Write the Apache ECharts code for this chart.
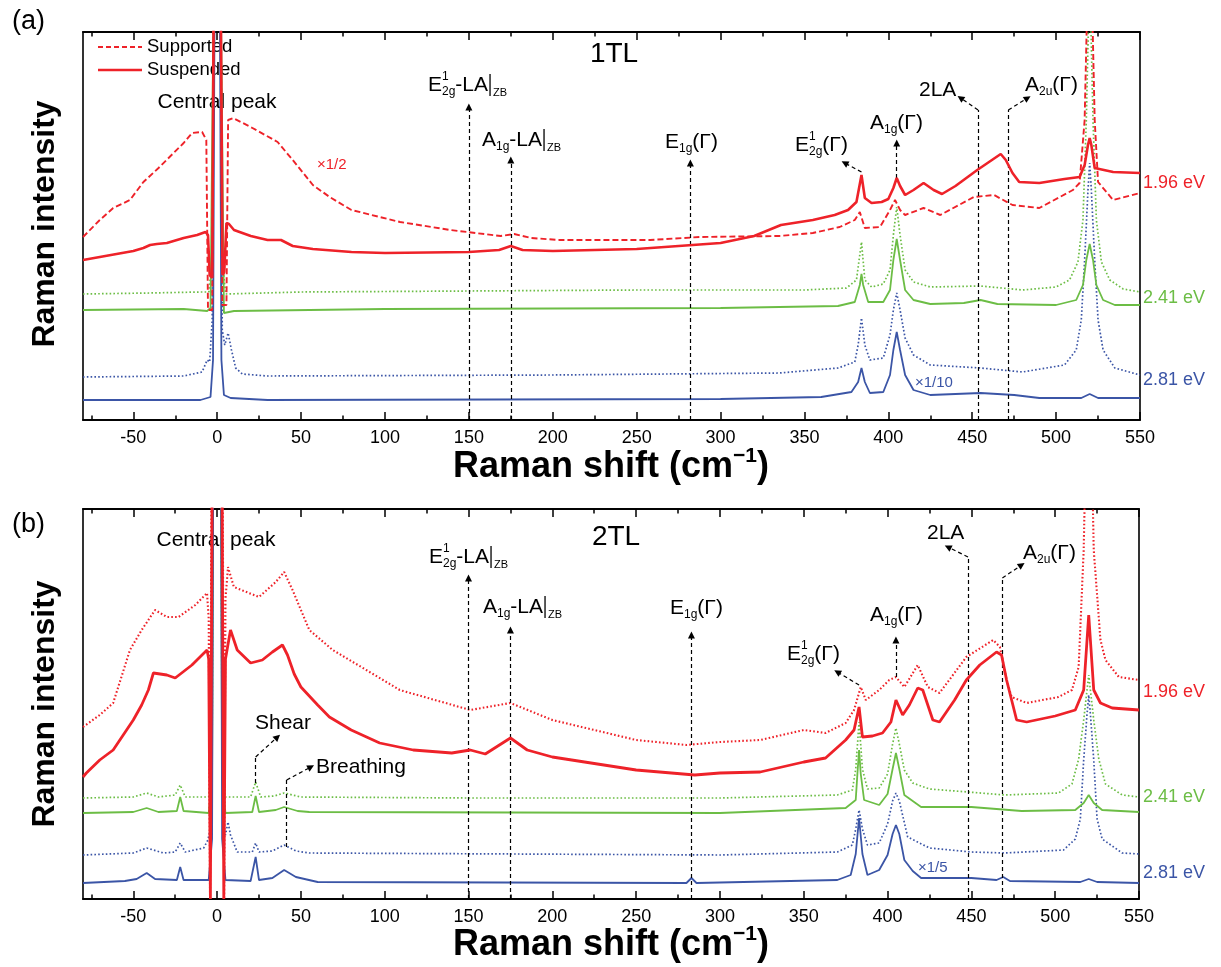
<!DOCTYPE html>
<html><head><meta charset="utf-8">
<script src="https://cdn.jsdelivr.net/npm/echarts@6/dist/echarts.min.js"></script>
<style>html,body{margin:0;padding:0;background:#fff}#c{width:1221px;height:967px}</style>
</head><body><div id="c"></div>
<script>
// ---------- data (Raman shift cm^-1, intensity a.u. offset per trace) ----------
const majorTicks = [-50,0,50,100,150,200,250,300,350,400,450,500,550];
const minorTicks = [-75,-25,25,75,125,175,225,275,325,375,425,475,525];

// (a) 1TL
const a_red_sus = [[-80,160],[-70,163],[-60,166],[-50,169],[-44,172],[-40,175],[-36,176],[-30,177],[-20,182],[-12,185],[-7,188],[-5.5,185],[-4.5,145],[-3,142],[-2,450],[0,450],[2,450],[3.2,145],[4.2,148],[5.5,197],[7,196],[10,190],[20,184],[30,180],[38,180],[45,174],[57,171],[80,168],[100,167],[150,168],[168,170],[175,174],[182,170],[200,169],[250,171],[300,177],[320,184],[336,195],[355,200],[368,205],[376,210],[381,218],[384,245],[386,222],[390,217],[396,218],[400,221],[403,232],[405,242],[407,234],[410,225],[415,230],[421,237],[427,230],[432,226],[440,234],[453,250],[460,258],[467,266],[470,260],[474,247],[478,238],[490,237],[505,241],[514,243],[517,255],[519,275],[520,282],[521,275],[523,252],[534,248],[550,247]];
const a_red_sup = [[-80,183],[-70,200],[-62,212],[-52,220],[-44,238],[-35,252],[-26,267],[-20,277],[-15,287],[-9,288],[-6.5,280],[-5.5,110],[-3,110],[-2,450],[0,450],[2,450],[3,115],[5.5,115],[6.5,300],[9.5,302],[21,292],[36,278],[45,260],[57,235],[67,223],[80,210],[109,198],[139,190],[169,184],[177,186],[187,182],[204,180],[258,180],[288,183],[335,184],[355,187],[371,193],[380,200],[383,208],[386,192],[395,193],[401,210],[404,220],[407,210],[410,205],[421,212],[431,205],[451,223],[463,225],[474,215],[490,212],[510,230],[514,237],[517,300],[519,450],[521,450],[523,300],[525,238],[534,220],[550,227]];
const a_grn_sup = [[-80,126],[-40,127],[-10,128],[-5,128],[-3,160],[-2,450],[0,450],[2,450],[3,160],[5,126],[50,128],[150,129],[250,130],[350,130],[375,132],[381,140],[384,178],[386,140],[390,133],[397,136],[401,150],[403,185],[405,213],[407,185],[410,150],[415,138],[425,133],[455,134],[480,130],[500,133],[508,140],[513,158],[516,200],[518,300],[520,450],[522,300],[524,200],[527,158],[532,140],[540,131],[550,128]];
const a_grn_sus = [[-80,110],[-20,111],[-6,109],[-4,112],[-2,450],[0,450],[2,450],[4,107],[10,109],[100,111],[300,112],[370,114],[380,118],[383,135],[384,146],[385,135],[388,118],[397,118],[401,130],[403,160],[405,181],[407,160],[410,130],[415,120],[425,116],[445,117],[455,120],[465,116],[500,115],[512,120],[516,135],[518,160],[520,176],[522,160],[524,135],[528,120],[535,115],[550,115]];
const a_blu_sup = [[-80,43],[-20,44],[-9,48],[-6,60],[-4.5,58],[-3,100],[-2,450],[0,450],[2,450],[3,90],[4.5,75],[6.5,87],[8.5,70],[11,52],[15,46],[30,44],[200,45],[335,47],[370,52],[380,58],[382,75],[384,102],[386,75],[389,60],[397,62],[401,85],[403,110],[405,127],[407,110],[410,82],[415,65],[425,55],[455,52],[480,48],[505,55],[512,70],[515,100],[517,160],[519,230],[520,257],[521,230],[523,160],[525,100],[528,70],[535,52],[550,45]];
const a_blu_sus = [[-80,20],[-10,20],[-4,23],[-2.5,60],[-1.5,450],[0,450],[1.5,450],[2.5,60],[4,25],[8,22],[30,20],[300,21],[360,23],[378,28],[382,38],[384,52],[386,38],[389,27],[397,28],[401,45],[403,70],[405,88],[407,70],[410,45],[415,30],[425,25],[455,27],[475,25],[490,22],[515,22],[520,26],[525,22],[550,22]];

// (b) 2TL
const b_red_sus = [[-80,122],[-78,126],[-70,139],[-62,149],[-50,179],[-45,194],[-41,209],[-38,226],[-30,224],[-25,221],[-15,234],[-6,249],[-5,240],[-4,0],[-2.5,600],[0,600],[2.5,600],[4,0],[5,240],[8,269],[12,249],[20,236],[27,239],[33,247],[39,254],[42,244],[46,225],[50,212],[60,194],[67,182],[80,169],[97,156],[117,149],[140,146],[151,149],[160,145],[175,161],[185,149],[200,142],[250,129],[285,124],[300,126],[324,127],[350,137],[363,141],[375,159],[380,169],[383,192],[385,162],[391,163],[397,166],[402,177],[405,199],[409,184],[413,194],[418,211],[421,209],[427,179],[431,177],[440,199],[447,219],[455,234],[465,247],[468,244],[471,219],[474,199],[477,179],[483,177],[500,183],[512,189],[517,209],[520,284],[523,209],[527,196],[534,191],[550,189]];
const b_red_sup = [[-80,172],[-70,184],[-62,196],[-52,249],[-45,269],[-37,289],[-30,282],[-23,282],[-13,294],[-6,306],[-5,280],[-4.2,0],[-3,600],[0,600],[3,600],[4.2,0],[5,300],[6.5,332],[10,312],[25,302],[35,317],[40,327],[45,309],[55,269],[69,249],[89,229],[109,209],[130,199],[151,189],[175,196],[200,179],[250,159],[280,154],[300,157],[324,159],[350,169],[363,166],[375,176],[380,189],[384,212],[387,199],[395,209],[401,219],[405,222],[410,212],[418,234],[424,212],[431,206],[447,242],[463,259],[467,252],[471,219],[474,202],[483,196],[502,202],[510,209],[514,232],[517,349],[520,600],[523,349],[527,259],[530,239],[538,222],[550,219]];
const b_grn_sup = [[-80,101],[-50,102],[-42,106],[-35,102],[-25,104],[-22,114],[-19,102],[-5,102],[-3,140],[-2,600],[0,600],[2,600],[3,140],[5,102],[20,102],[23,117],[26,102],[34,103],[40,106],[50,102],[150,101],[300,101],[370,104],[379,109],[381,130],[383,177],[385,130],[388,110],[395,111],[400,125],[403,155],[405,171],[407,155],[410,129],[415,116],[425,110],[448,107],[470,104],[502,106],[510,115],[514,140],[517,179],[520,224],[523,179],[526,140],[530,115],[540,104],[550,102]];
const b_grn_sus = [[-80,86],[-50,87],[-42,91],[-35,87],[-24,88],[-22,102],[-20,88],[-5,86],[-3,120],[-2,600],[0,600],[2,600],[3,120],[5,86],[21,87],[23,103],[25,87],[35,89],[40,92],[48,88],[55,87],[300,86],[375,91],[381,99],[382,125],[383,149],[384,125],[386,99],[395,94],[400,105],[403,130],[405,146],[407,130],[410,104],[420,92],[450,92],[480,88],[512,89],[517,96],[520,104],[523,96],[528,89],[550,87]];
const b_blu_sup = [[-80,44],[-50,46],[-42,51],[-32,46],[-25,47],[-22,56],[-19,47],[-8,51],[-5.5,59],[-4,70],[-2.5,600],[0,600],[2.5,600],[4,70],[5,64],[6.5,77],[8,64],[12,47],[21,47],[23,56],[25,47],[33,48],[40,54],[47,48],[55,46],[300,44],[370,47],[379,54],[381,70],[383,89],[385,70],[388,54],[395,56],[400,75],[403,98],[405,106],[407,98],[412,62],[425,51],[450,47],[470,46],[505,49],[512,60],[515,80],[517,139],[519,185],[520,204],[521,185],[523,139],[525,80],[528,60],[540,46],[550,45]];
const b_blu_sus = [[-80,16],[-55,18],[-48,20],[-42,26],[-37,20],[-24,19],[-22,32],[-20,19],[-5,19],[-3,60],[-2,600],[0,600],[2,600],[3,60],[5,19],[20,18],[23,42],[25,19],[33,21],[40,29],[47,22],[60,17],[280,16],[283,21],[286,16],[370,19],[378,24],[381,45],[383,81],[385,45],[388,24],[395,29],[400,44],[403,65],[405,74],[407,65],[410,39],[415,28],[420,21],[450,21],[465,19],[469,22],[473,18],[515,17],[520,20],[525,17],[550,16]];

// annotation arrows (data coordinates): [x1,y1,x2,y2,arrow]
const a_arrows = [[150,0,150,313,1],[175,0,175,260,1],[282,0,282,257,1],[384,248,374,257,1],[405,242,405,277,1],[453.5,0,453.5,310,0],[453.5,310,443,322,1],[471.5,0,471.5,310,0],[471.5,310,483,322,1]];
const b_arrows = [[150,0,150,321,1],[175,0,175,269,1],[283,0,283,264,1],[383,214,370,227,1],[405,222,405,259,1],[448,0,448,342,0],[448,342,436,352,1],[468.5,0,468.5,321,0],[468.5,321,480,334,1],[23,116,23,142,0],[23,142,36,162,1],[41.5,52,41.5,119,0],[41.5,119,56,132,1]];

// ---------- styling ----------
const FONT = '"Liberation Sans", Arial, sans-serif';
const RED = '#ee2229', GRN = '#6cbd45', BLU = '#3b55a6';
const DOT = [1.6, 2.2], DASH = [6, 3];

const chart = echarts.init(document.getElementById('c'), null, {renderer: 'canvas'});

function mkX(grid, pos, vals, len, labels) {
  return {type: 'value', gridIndex: grid, position: pos, min: -80, max: 550,
    axisLine: {show: true, onZero: false, lineStyle: {color: '#000', width: 1.6}},
    axisTick: {show: true, inside: true, length: len, customValues: vals, lineStyle: {color: '#000', width: 1.5}},
    axisLabel: {show: labels, customValues: vals, color: '#000', fontSize: 18, fontFamily: FONT, margin: 9},
    splitLine: {show: false}};
}
function mkY(grid, max) {
  return {type: 'value', gridIndex: grid, min: 0, max: max, axisLine: {show: false},
    axisTick: {show: false}, axisLabel: {show: false}, splitLine: {show: false}};
}
function ln(data, color, dash, width, xi, yi, z) {
  return {type: 'line', data: data, xAxisIndex: xi, yAxisIndex: yi, showSymbol: false, symbol: 'none',
    lineStyle: {color: color, width: width, type: dash}, animation: false, silent: true, clip: true, z: z};
}
function arrows(list, xi, yi) {
  return {type: 'line', data: [], xAxisIndex: xi, yAxisIndex: yi, silent: true, animation: false, z: 20,
    markLine: {silent: true, animation: false, symbol: ['none', 'triangle'], symbolSize: 7,
      lineStyle: {color: '#000', type: [4, 3], width: 1.2}, label: {show: false},
      data: list.map(a => [{coord: [a[0], a[1]], symbol: 'none'}, {coord: [a[2], a[3]], symbol: a[4] ? 'triangle' : 'none', symbolSize: 7}])}};
}

// ---------- rich labels as graphic text ----------
const mctx = document.createElement('canvas').getContext('2d');
function tw(t, s, b) { mctx.font = (b ? 'bold ' : '') + s + 'px ' + FONT; return mctx.measureText(t).width; }
function label(parts, x, y, color, center) {
  color = color || '#000';
  let cur = 0, maxEnd = 0;
  parts.forEach(p => {
    const w = p.bar ? (p.w || 5) : tw(p.t, p.s, p.b);
    p._x = cur; maxEnd = Math.max(maxEnd, cur + w);
    if (p.adv !== false) cur += w;
  });
  const x0 = center ? x - maxEnd / 2 : x;
  return parts.map(p => p.bar
    ? {type: 'line', silent: true, shape: {x1: x0 + p._x + 2, y1: y + p.y1, x2: x0 + p._x + 2, y2: y + p.y2}, style: {stroke: color, lineWidth: 1.3}}
    : {type: 'text', silent: true, x: x0 + p._x, y: y + (p.dy || 0),
       style: {text: p.t, fontSize: p.s, fontFamily: FONT, fontWeight: p.b ? 'bold' : 'normal', fill: p.c || color, align: 'left', verticalAlign: 'middle'}});
}
const S = 21, s = 12;
const lblE2gLA = () => [{t:'E',s:S},{t:'1',s:s,dy:-8,adv:false},{t:'2g',s:s,dy:7},{t:'-LA',s:S},{bar:true,w:5,y1:-11,y2:11},{t:'ZB',s:11,dy:8}];
const lblA1gLA = () => [{t:'A',s:S},{t:'1g',s:s,dy:7},{t:'-LA',s:S},{bar:true,w:5,y1:-11,y2:11},{t:'ZB',s:11,dy:8}];
const lblE1g = () => [{t:'E',s:S},{t:'1g',s:s,dy:7},{t:'(Γ)',s:S}];
const lblE2g = () => [{t:'E',s:S},{t:'1',s:s,dy:-8,adv:false},{t:'2g',s:s,dy:7},{t:'(Γ)',s:S}];
const lblA1g = () => [{t:'A',s:S},{t:'1g',s:s,dy:7},{t:'(Γ)',s:S}];
const lbl2LA = () => [{t:'2LA',s:S}];
const lblA2u = () => [{t:'A',s:S},{t:'2u',s:s,dy:7},{t:'(Γ)',s:S}];
const plain = (t, size, bold) => [{t: t, s: size, b: bold}];
const xTitle = () => [{t:'Raman shift (cm',s:36,b:true},{t:'−1',s:21,b:true,dy:-11},{t:')',s:36,b:true}];

let G = [];
// panel (a)
G = G.concat(label(plain('(a)', 27), 12, 22));
G = G.concat(label(plain('1TL', 28), 614, 54, '#000', true));
G.push({type:'line', silent:true, shape:{x1:98,y1:47,x2:142,y2:47}, style:{stroke:RED, lineWidth:2, lineDash:[5,3]}});
G.push({type:'line', silent:true, shape:{x1:98,y1:70,x2:142,y2:70}, style:{stroke:RED, lineWidth:2.4}});
G = G.concat(label(plain('Supported', 18.5), 147, 47));
G = G.concat(label(plain('Suspended', 18.5), 147, 70));
G = G.concat(label(plain('Central peak', 21), 217, 102, '#000', true));
G = G.concat(label(plain('×1/2', 15), 317, 165, RED));
G = G.concat(label(lblE2gLA(), 428, 85));
G = G.concat(label(lblA1gLA(), 482, 140));
G = G.concat(label(lblE1g(), 665, 142));
G = G.concat(label(lblE2g(), 795, 145));
G = G.concat(label(lblA1g(), 870, 123));
G = G.concat(label(lbl2LA(), 919, 90));
G = G.concat(label(lblA2u(), 1025, 85));
G = G.concat(label(plain('×1/10', 15), 915, 383, BLU));
G = G.concat(label(plain('1.96 eV', 18), 1143, 183, RED));
G = G.concat(label(plain('2.41 eV', 18), 1143, 298, GRN));
G = G.concat(label(plain('2.81 eV', 18), 1143, 380, BLU));
G = G.concat(label(xTitle(), 611, 467, '#000', true));
// panel (b)
G = G.concat(label(plain('(b)', 27), 12, 525));
G = G.concat(label(plain('2TL', 28), 616, 537, '#000', true));
G = G.concat(label(plain('Central peak', 21), 216, 540, '#000', true));
G = G.concat(label(lblE2gLA(), 429, 557));
G = G.concat(label(lblA1gLA(), 483, 607));
G = G.concat(label(lblE1g(), 670, 608));
G = G.concat(label(lblE2g(), 787, 654));
G = G.concat(label(lblA1g(), 870, 615));
G = G.concat(label(lbl2LA(), 927, 533));
G = G.concat(label(lblA2u(), 1023, 553));
G = G.concat(label(plain('Shear', 21), 255, 723));
G = G.concat(label(plain('Breathing', 21), 316, 767));
G = G.concat(label(plain('×1/5', 15), 918, 868, BLU));
G = G.concat(label(plain('1.96 eV', 18), 1143, 692, RED));
G = G.concat(label(plain('2.41 eV', 18), 1143, 797, GRN));
G = G.concat(label(plain('2.81 eV', 18), 1143, 873, BLU));
G = G.concat(label(xTitle(), 611, 945, '#000', true));
// y titles
[224, 704].forEach(cy => G.push({type:'text', silent:true, x:45, y:cy, rotation:Math.PI/2,
  style:{text:'Raman intensity', fontSize:32, fontWeight:'bold', fontFamily:FONT, fill:'#000', align:'center', verticalAlign:'middle'}}));

const option = {
  backgroundColor: '#fff',
  animation: false,
  grid: [
    {left: 83, top: 32, width: 1057, height: 388, show: true, borderColor: '#000', borderWidth: 1.6, backgroundColor: 'transparent'},
    {left: 83, top: 509, width: 1056, height: 390, show: true, borderColor: '#000', borderWidth: 1.6, backgroundColor: 'transparent'}
  ],
  xAxis: [
    mkX(0, 'bottom', majorTicks, 8, true), mkX(0, 'bottom', minorTicks, 4.5, false),
    mkX(0, 'top', majorTicks, 8, false), mkX(0, 'top', minorTicks, 4.5, false),
    mkX(1, 'bottom', majorTicks, 8, true), mkX(1, 'bottom', minorTicks, 4.5, false),
    mkX(1, 'top', majorTicks, 8, false), mkX(1, 'top', minorTicks, 4.5, false)
  ],
  yAxis: [mkY(0, 388), mkY(1, 390)],
  series: [
    ln(a_grn_sup, GRN, DOT, 1.7, 0, 0, 2), ln(a_grn_sus, GRN, 'solid', 1.8, 0, 0, 3),
    ln(a_blu_sup, BLU, DOT, 1.7, 0, 0, 2), ln(a_blu_sus, BLU, 'solid', 1.8, 0, 0, 3),
    ln(a_red_sup, RED, DASH, 1.9, 0, 0, 4), ln(a_red_sus, RED, 'solid', 2.6, 0, 0, 5),
    ln(b_grn_sup, GRN, DOT, 1.7, 4, 1, 2), ln(b_grn_sus, GRN, 'solid', 1.8, 4, 1, 3),
    ln(b_blu_sup, BLU, DOT, 1.7, 4, 1, 2), ln(b_blu_sus, BLU, 'solid', 1.8, 4, 1, 3),
    ln(b_red_sup, RED, DOT, 2.1, 4, 1, 4), ln(b_red_sus, RED, 'solid', 2.8, 4, 1, 5),
    arrows(a_arrows, 0, 0), arrows(b_arrows, 4, 1)
  ],
  graphic: G
};
chart.setOption(option);
</script></body></html>
